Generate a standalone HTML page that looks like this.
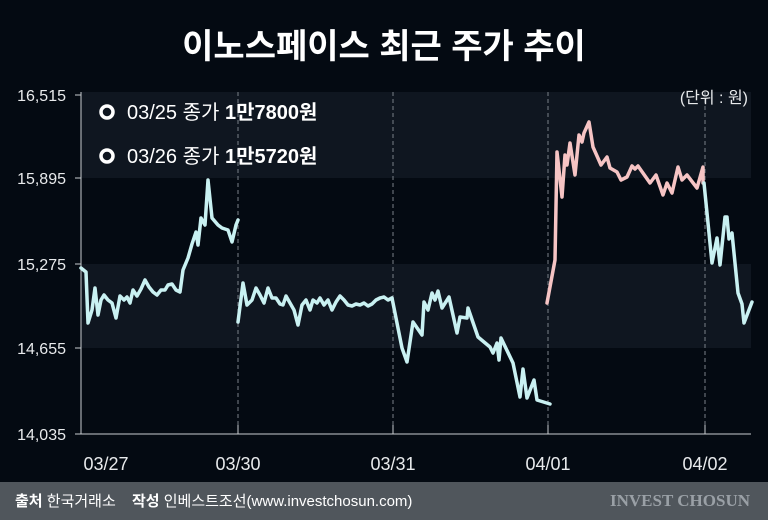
<!DOCTYPE html>
<html><head><meta charset="utf-8"><style>
body{margin:0;width:768px;height:520px;overflow:hidden;background:#040a12;font-family:"Liberation Sans","Noto Sans CJK KR",sans-serif;}
</style></head><body>
<svg width="768" height="520" xmlns="http://www.w3.org/2000/svg" style="display:block">
<rect width="768" height="520" fill="#040a12"/>
<text x="384" y="58" fill="#fff" font-size="34" font-weight="bold" text-anchor="middle" font-family="Liberation Sans,Noto Sans CJK KR,sans-serif">이노스페이스 최근 주가 추이</text>
<rect x="81" y="92" width="670" height="86" fill="#0f1620"/>
<rect x="81" y="264" width="670" height="84" fill="#0f1620"/>
<g stroke="#7a8088" stroke-width="1" stroke-dasharray="4,3">
<line x1="238" y1="92" x2="238" y2="434"/><line x1="393" y1="92" x2="393" y2="434"/><line x1="548" y1="92" x2="548" y2="434"/><line x1="705" y1="92" x2="705" y2="434"/></g>
<g stroke="#c8ccd0" stroke-width="1">
<line x1="81" y1="92" x2="81" y2="434"/><line x1="81" y1="434" x2="751" y2="434"/>
<line x1="75" y1="95" x2="81" y2="95"/><line x1="75" y1="178" x2="81" y2="178"/><line x1="75" y1="264" x2="81" y2="264"/><line x1="75" y1="348" x2="81" y2="348"/><line x1="75" y1="434" x2="81" y2="434"/>
<line x1="238" y1="425" x2="238" y2="434"/><line x1="393" y1="425" x2="393" y2="434"/><line x1="548" y1="425" x2="548" y2="434"/><line x1="705" y1="425" x2="705" y2="434"/></g>
<g fill="#e8eaec" font-size="16" text-anchor="end">
<text x="66" y="101">16,515</text><text x="66" y="184">15,895</text><text x="66" y="270">15,275</text><text x="66" y="354">14,655</text><text x="66" y="440">14,035</text></g>
<g fill="#e8eaec" font-size="18" text-anchor="middle">
<text x="106" y="470">03/27</text><text x="238" y="470">03/30</text><text x="393" y="470">03/31</text><text x="548" y="470">04/01</text><text x="705" y="470">04/02</text></g>
<text x="748" y="103" fill="#e8eaec" font-size="16" text-anchor="end">(단위 : 원)</text>
<circle cx="107" cy="112" r="6" fill="none" stroke="#fff" stroke-width="3.5"/>
<circle cx="107" cy="156" r="6" fill="none" stroke="#fff" stroke-width="3.5"/>
<text x="127" y="119" fill="#fff" font-size="20">03/25 종가 <tspan font-weight="bold">1만7800원</tspan></text>
<text x="127" y="163" fill="#fff" font-size="20">03/26 종가 <tspan font-weight="bold">1만5720원</tspan></text>
<g fill="none" stroke-width="3.5" stroke-linejoin="round" stroke-linecap="round">
<polyline stroke="#c9f1f2" points="81,268 86,272 88,323 92,310 95,288 98,315 101,300 104,295 108,300 112,303 116,318 120,296 124,300 127,297 130,303 133,290 137,296 141,289 145,280 149,287 153,292 157,295 161,290 165,290 168,285 172,284 176,290 180,292 183,270 188,258 192,244 196,232 198,245 201,218 205,225 208,180 212,218 218,225 222,228 228,230 232,242 236,225 238,220"/>
<polyline stroke="#c9f1f2" points="238,322 243,283 247,305 252,300 256,288 260,295 264,303 268,288 272,298 276,298 280,304 283,305 286,296 290,303 294,310 298,325 302,305 306,300 310,310 313,300 317,303 320,298 324,305 328,300 332,310 336,302 340,296 344,300 348,305 352,306 356,304 360,305 364,303 368,306 372,304 376,300 380,298 384,297 388,300 392,298"/>
<polyline stroke="#c9f1f2" points="392,298 402,348 407,362 413,322 422,335 424,302 428,310 432,293 435,300 438,291 442,308 449,297 457,333 460,317 467,318 468,308 478,337 490,347 493,353 497,343 499,360 501,338 513,363 520,397 523,369 527,398 534,380 537,400 550,404"/>
<polyline stroke="#f6c4c4" points="547,303 555,260 557,152 562,197 565,155 567,165 570,143 575,175 579,135 582,142 584,133 589,122 593,147 601,165 607,157 610,168 617,172 621,180 627,177 632,166 635,169 638,166 650,183 656,175 663,195 667,183 672,193 678,167 682,180 687,175 697,188 703,167 703,183"/>
<polyline stroke="#c9f1f2" points="704,183 712,263 717,238 720,265 725,217 727,217 729,239 732,233 738,293 742,304 744,323 752,302"/>
</g>
<rect x="0" y="482" width="768" height="38" fill="#50565c"/>
<text x="15" y="506" fill="#fff" font-size="15"><tspan font-weight="bold">출처</tspan> 한국거래소 <tspan dx="12" font-weight="bold">작성</tspan> 인베스트조선(www.investchosun.com)</text>
<text x="750" y="506" fill="#9aa0a6" font-size="17" font-weight="bold" text-anchor="end" font-family="Liberation Serif,serif">INVEST CHOSUN</text>
</svg>
</body></html>
